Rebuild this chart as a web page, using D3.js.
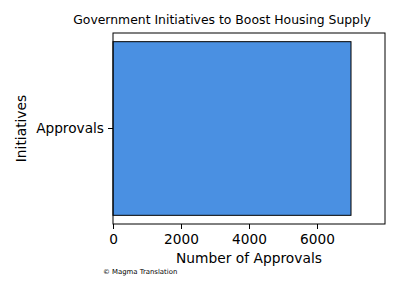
<!DOCTYPE html>
<html>
<head>
<meta charset="utf-8">
<script src="https://cdn.jsdelivr.net/npm/d3@7"></script>
<style>
  body { margin: 0; background: #fff; }
  text { font-family: "DejaVu Sans", sans-serif; fill: #000; }
</style>
</head>
<body>
<div id="chart"></div>
<script>
// ----- data -----
let categories = ["Approvals"];
let approvals = [7000];
let xTicks = [0, 2000, 4000, 6000];
let xMax = 8000;

let svgWidth = 400;
let svgHeight = 300;
let margin = { top: 33, right: 15, bottom: 76, left: 113 };
let width = svgWidth - margin.left - margin.right;
let height = svgHeight - margin.top - margin.bottom;

let svg = d3
    .select("#chart")
    .append("svg")
    .attr("width", svgWidth)
    .attr("height", svgHeight);

let x = d3.scaleLinear().domain([0, xMax]).range([0, width]);

let y = d3
    .scaleBand()
    .domain(categories)
    .range([0, height])
    .paddingInner(0)
    .paddingOuter(0.05);

let chart = svg
    .append("g")
    .attr("transform", `translate(${margin.left}, ${margin.top})`);

chart
    .selectAll("rect.bar")
    .data(approvals)
    .enter()
    .append("rect")
    .attr("class", "bar")
    .attr("fill", "#4a90e2")
    .attr("stroke", "#000")
    .attr("stroke-width", 1)
    .attr("x", x(0))
    .attr("y", (d, i) => y(categories[i]))
    .attr("width", d => x(d) - x(0))
    .attr("height", y.bandwidth());

// frame
chart
    .append("rect")
    .attr("width", width)
    .attr("height", height)
    .attr("fill", "none")
    .attr("stroke", "#000")
    .attr("stroke-width", 1);

let axisX = d3.axisBottom(x).tickValues(xTicks).tickSize(5).tickPadding(5).tickFormat(d3.format("d"));
let axisY = d3.axisLeft(y).tickSize(5).tickPadding(4);

let groupX = chart.append("g").attr("transform", `translate(0, ${height})`).call(axisX);
let groupY = chart.append("g").call(axisY);

[groupX, groupY].forEach(g => {
    g.select(".domain").remove();
    g.selectAll("text").style("font-size", "13.7px").style("font-family", "DejaVu Sans");
    g.selectAll("line").attr("stroke", "#000");
});

// titles
svg.append("text")
    .attr("x", 222)
    .attr("y", 24)
    .attr("text-anchor", "middle")
    .style("font-size", "12.4px")
    .text("Government Initiatives to Boost Housing Supply");

svg.append("text")
    .attr("x", margin.left + width / 2)
    .attr("y", 263)
    .attr("text-anchor", "middle")
    .style("font-size", "13.8px")
    .text("Number of Approvals");

svg.append("text")
    .attr("transform", `translate(26, ${margin.top + height / 2}) rotate(-90)`)
    .attr("text-anchor", "middle")
    .style("font-size", "13.8px")
    .text("Initiatives");

svg.append("text")
    .attr("x", 103)
    .attr("y", 274)
    .style("font-size", "6.9px")
    .text("© Magma Translation");
</script>
</body>
</html>
